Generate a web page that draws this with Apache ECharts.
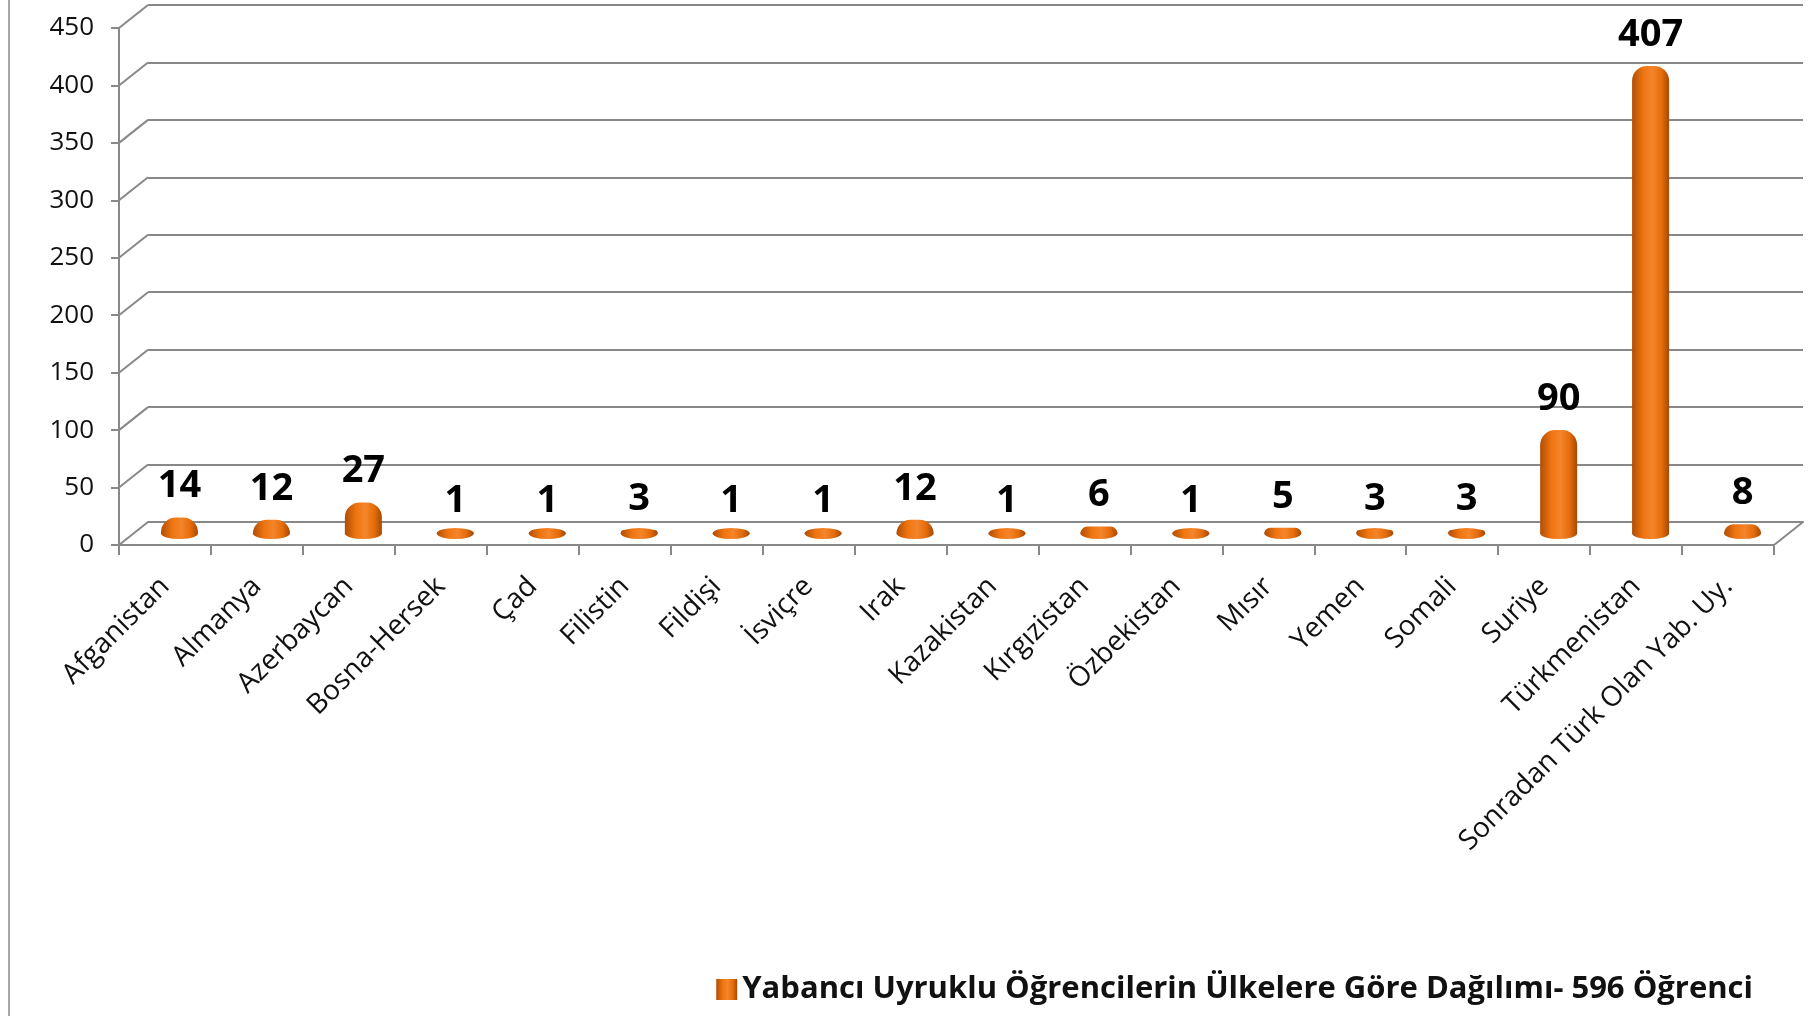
<!DOCTYPE html>
<html>
<head>
<meta charset="utf-8">
<script src="https://cdn.jsdelivr.net/npm/echarts@6/dist/echarts.min.js"></script>
<style>
  html, body { margin: 0; padding: 0; background: #fff; }
  #chart { width: 1816px; height: 1016px; }
</style>
</head>
<body>
<div id="chart"></div>
<script>
// veriler
const ulkeler = ['Afganistan', 'Almanya', 'Azerbaycan', 'Bosna-Hersek', 'Çad', 'Filistin', 'Fildişi', 'İsviçre', 'Irak', 'Kazakistan', 'Kırgızistan', 'Özbekistan', 'Mısır', 'Yemen', 'Somali', 'Suriye', 'Türkmenistan', 'Sonradan Türk Olan Yab. Uy.']
const ogrenciSayisi = [14, 12, 27, 1, 1, 3, 1, 1, 12, 1, 6, 1, 5, 3, 3, 90, 407, 8]
const yEksenDegerleri = [0, 50, 100, 150, 200, 250, 300, 350, 400, 450]
const seriAdi = 'Yabancı Uyruklu Öğrencilerin Ülkelere Göre Dağılımı- 596 Öğrenci'

// 3B görünüm için derinlik kayması
const DX = 29, DY = 23
const gri = '#888888'
const font = 'Open Sans'

const barRengi = {
  type: 'linear', x: 0, y: 0, x2: 1, y2: 0,
  colorStops: [
    { offset: 0, color: '#b04e06' },
    { offset: 0.3, color: '#ee7410' },
    { offset: 0.55, color: '#f5852a' },
    { offset: 0.8, color: '#e46c0b' },
    { offset: 1, color: '#a64905' }
  ]
}

const option = {
  backgroundColor: '#fff',
  animation: false,
  textStyle: { fontFamily: font },
  legend: {
    data: [seriAdi],
    right: 58,
    bottom: 6,
    icon: 'rect',
    itemWidth: 21,
    itemHeight: 21,
    itemGap: 8,
    textStyle: { fontFamily: font, fontWeight: 'bold', fontSize: 31, color: '#111' }
  },
  graphic: [{
    type: 'line',
    shape: { x1: 9, y1: 0, x2: 9, y2: 1016 },
    style: { stroke: '#a6a6a6', lineWidth: 2 }
  }],
  grid: [
    // ön yüz (eksenler)
    { left: 119, right: 42, top: 28, bottom: 471 },
    // arka duvar (ızgara çizgileri)
    { left: 119 + DX, right: 42 - DX, top: 28 - DY, bottom: 471 + DY },
    // orta (silindirler)
    { left: 119 + DX / 2, right: 42 - DX / 2, top: 28 - DY / 2, bottom: 471 + DY / 2 }
  ],
  xAxis: [
    {
      type: 'category', gridIndex: 0, data: ulkeler,
      axisLine: { lineStyle: { color: gri, width: 2 } },
      axisTick: { show: true, interval: 0, length: 10, lineStyle: { color: gri, width: 2 } },
      axisLabel: { interval: 0, rotate: 45, margin: 37, fontSize: 28, color: '#111', fontFamily: font }
    },
    {
      type: 'category', gridIndex: 1, data: ulkeler,
      axisLine: { show: true, lineStyle: { color: gri, width: 2 } },
      axisTick: { show: false }, axisLabel: { show: false }
    },
    {
      type: 'category', gridIndex: 2, data: ulkeler,
      axisLine: { show: false }, axisTick: { show: false }, axisLabel: { show: false }
    }
  ],
  yAxis: [
    {
      type: 'value', gridIndex: 0, min: 0, max: 450, interval: 50,
      axisLine: { show: true, lineStyle: { color: gri, width: 2 } },
      axisTick: { show: true, length: 8, lineStyle: { color: gri, width: 2 } },
      splitLine: { show: false },
      axisLabel: { margin: 25, fontSize: 26, color: '#111', fontFamily: font }
    },
    {
      type: 'value', gridIndex: 1, min: 0, max: 450, interval: 50,
      axisLine: { show: false }, axisTick: { show: false }, axisLabel: { show: false },
      splitLine: { show: true, lineStyle: { color: gri, width: 2 } }
    },
    {
      type: 'value', gridIndex: 2, min: 0, max: 450, interval: 50,
      axisLine: { show: false }, axisTick: { show: false }, axisLabel: { show: false },
      splitLine: { show: false }
    }
  ],
  series: [
    {
      // sol duvar ve zemin köşegenleri
      type: 'custom',
      xAxisIndex: 0, yAxisIndex: 0,
      silent: true,
      clip: false,
      data: yEksenDegerleri.map(v => [0, v]),
      encode: { x: 0, y: 1 },
      renderItem: function (params, api) {
        const p = api.coord([0, api.value(1)])
        const cs = params.coordSys
        const children = [{
          type: 'line',
          shape: { x1: cs.x, y1: p[1], x2: cs.x + DX, y2: p[1] - DY },
          style: { stroke: gri, lineWidth: 2 }
        }]
        if (api.value(1) === 0) {
          children.push({
            type: 'line',
            shape: { x1: cs.x + cs.width, y1: p[1], x2: cs.x + cs.width + DX, y2: p[1] - DY },
            style: { stroke: gri, lineWidth: 2 }
          })
        }
        return { type: 'group', children: children }
      }
    },
    {
      name: seriAdi,
      type: 'bar',
      xAxisIndex: 2, yAxisIndex: 2,
      data: ogrenciSayisi,
      barWidth: 37,
      z: 3,
      itemStyle: { color: barRengi, borderRadius: [15, 15, 0, 0] },
      label: {
        show: true, position: 'top', distance: 12,
        fontFamily: font, fontWeight: 'bold', fontSize: 38, color: '#000'
      }
    },
    {
      // silindir tabanı
      type: 'pictorialBar',
      xAxisIndex: 2, yAxisIndex: 2,
      data: ogrenciSayisi,
      symbol: 'circle',
      symbolSize: [37, 11],
      symbolPosition: 'start',
      symbolOffset: [0, '50%'],
      z: 2,
      itemStyle: { color: barRengi },
      silent: true
    }
  ]
}

const chart = echarts.init(document.getElementById('chart'))
chart.setOption(option)
window.onresize = function () {
  chart.resize()
}
</script>
</body>
</html>
